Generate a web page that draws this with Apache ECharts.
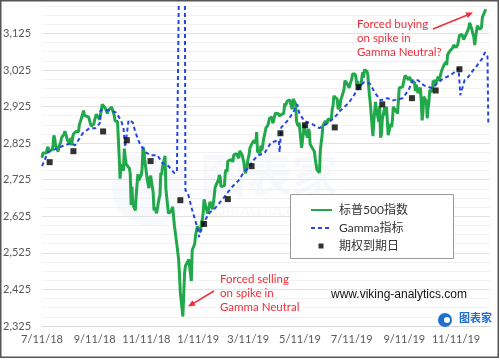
<!DOCTYPE html>
<html><head><meta charset="utf-8">
<script src="https://cdn.jsdelivr.net/npm/echarts@6/dist/echarts.min.js"></script>
<style>html,body{margin:0;padding:0;background:#fff}#c{width:500px;height:360px}</style>
</head><body><div id="c"></div>
<script>
const xStart = '2018-07-11', xEnd = '2019-12-21';
const xTickDates = ['2018-07-11','2018-09-11','2018-11-11','2019-01-11','2019-03-11','2019-05-11','2019-07-11','2019-09-11','2019-11-11'];
const xTickLabels = ['7/11/18','9/11/18','11/11/18','1/11/19','3/11/19','5/11/19','7/11/19','9/11/19','11/11/19'];
const yTickValues = [2325,2425,2525,2625,2725,2825,2925,3025,3125];
const seriesNames = ['标普500指数','Gamma指标','期权到期日'];

const spx = [
['2018-07-11',2785],['2018-07-12',2798],['2018-07-13',2801],['2018-07-16',2798],['2018-07-17',2809],['2018-07-18',2815],['2018-07-19',2804],['2018-07-20',2801],['2018-07-23',2807],['2018-07-24',2820],['2018-07-25',2846],['2018-07-26',2837],['2018-07-27',2818],['2018-07-30',2802],['2018-07-31',2816],
['2018-08-01',2813],['2018-08-02',2827],['2018-08-03',2840],['2018-08-06',2850],['2018-08-07',2858],['2018-08-08',2857],['2018-08-09',2853],['2018-08-10',2833],['2018-08-13',2821],['2018-08-14',2840],['2018-08-15',2819],['2018-08-16',2840],['2018-08-17',2850],['2018-08-20',2857],['2018-08-21',2862],['2018-08-22',2861],['2018-08-23',2856],['2018-08-24',2875],['2018-08-27',2897],['2018-08-28',2898],['2018-08-29',2914],['2018-08-30',2901],['2018-08-31',2902],
['2018-09-04',2896],['2018-09-05',2888],['2018-09-06',2878],['2018-09-07',2872],['2018-09-10',2877],['2018-09-11',2888],['2018-09-12',2888],['2018-09-13',2904],['2018-09-14',2905],['2018-09-17',2889],['2018-09-18',2904],['2018-09-19',2907],['2018-09-20',2931],['2018-09-21',2930],['2018-09-24',2919],['2018-09-25',2916],['2018-09-26',2906],['2018-09-27',2914],['2018-09-28',2914],
['2018-10-01',2924],['2018-10-02',2923],['2018-10-03',2926],['2018-10-04',2902],['2018-10-05',2886],['2018-10-08',2884],['2018-10-09',2881],['2018-10-10',2786],['2018-10-11',2728],['2018-10-12',2767],['2018-10-15',2750],['2018-10-16',2810],['2018-10-17',2809],['2018-10-18',2768],['2018-10-19',2768],['2018-10-22',2756],['2018-10-23',2741],['2018-10-24',2656],['2018-10-25',2706],['2018-10-26',2659],['2018-10-29',2641],['2018-10-30',2682],['2018-10-31',2712],
['2018-11-01',2740],['2018-11-02',2723],['2018-11-05',2738],['2018-11-06',2756],['2018-11-07',2814],['2018-11-08',2806],['2018-11-09',2781],['2018-11-12',2726],['2018-11-13',2722],['2018-11-14',2702],['2018-11-15',2730],['2018-11-16',2736],['2018-11-19',2690],['2018-11-20',2641],['2018-11-21',2649],['2018-11-23',2633],['2018-11-26',2674],['2018-11-27',2682],['2018-11-28',2744],['2018-11-29',2738],['2018-11-30',2760],
['2018-12-03',2790],['2018-12-04',2700],['2018-12-06',2696],['2018-12-07',2633],['2018-12-10',2638],['2018-12-11',2636],['2018-12-12',2651],['2018-12-13',2650],['2018-12-14',2600],['2018-12-17',2546],['2018-12-18',2546],['2018-12-19',2507],['2018-12-20',2467],['2018-12-21',2417],['2018-12-24',2351],['2018-12-26',2468],['2018-12-27',2489],['2018-12-28',2486],['2018-12-31',2507],
['2019-01-02',2510],['2019-01-03',2448],['2019-01-04',2532],['2019-01-07',2550],['2019-01-08',2574],['2019-01-09',2585],['2019-01-10',2597],['2019-01-11',2596],['2019-01-14',2583],['2019-01-15',2610],['2019-01-16',2616],['2019-01-17',2636],['2019-01-18',2671],['2019-01-22',2633],['2019-01-23',2639],['2019-01-24',2643],['2019-01-25',2665],['2019-01-28',2644],['2019-01-29',2640],['2019-01-30',2681],['2019-01-31',2704],
['2019-02-01',2707],['2019-02-04',2725],['2019-02-05',2738],['2019-02-06',2731],['2019-02-07',2706],['2019-02-08',2708],['2019-02-11',2709],['2019-02-12',2744],['2019-02-13',2753],['2019-02-14',2746],['2019-02-15',2776],['2019-02-19',2780],['2019-02-20',2784],['2019-02-21',2774],['2019-02-22',2793],['2019-02-25',2796],['2019-02-26',2793],['2019-02-27',2792],['2019-02-28',2784],
['2019-03-01',2804],['2019-03-04',2792],['2019-03-05',2789],['2019-03-06',2771],['2019-03-07',2749],['2019-03-08',2743],['2019-03-11',2784],['2019-03-12',2792],['2019-03-13',2811],['2019-03-14',2808],['2019-03-15',2822],['2019-03-18',2833],['2019-03-19',2832],['2019-03-20',2824],['2019-03-21',2855],['2019-03-22',2801],['2019-03-25',2799],['2019-03-26',2818],['2019-03-27',2805],['2019-03-28',2816],['2019-03-29',2834],
['2019-04-01',2867],['2019-04-02',2867],['2019-04-03',2873],['2019-04-04',2880],['2019-04-05',2893],['2019-04-08',2896],['2019-04-09',2879],['2019-04-10',2888],['2019-04-11',2888],['2019-04-12',2907],['2019-04-15',2906],['2019-04-16',2908],['2019-04-17',2900],['2019-04-18',2905],['2019-04-22',2907],['2019-04-23',2934],['2019-04-24',2927],['2019-04-25',2926],['2019-04-26',2940],['2019-04-29',2943],['2019-04-30',2946],
['2019-05-01',2924],['2019-05-02',2918],['2019-05-03',2946],['2019-05-06',2932],['2019-05-07',2884],['2019-05-08',2880],['2019-05-09',2871],['2019-05-10',2881],['2019-05-13',2812],['2019-05-14',2834],['2019-05-15',2851],['2019-05-16',2876],['2019-05-17',2860],['2019-05-20',2840],['2019-05-21',2864],['2019-05-22',2857],['2019-05-23',2822],['2019-05-24',2826],['2019-05-28',2802],['2019-05-29',2783],['2019-05-30',2788],['2019-05-31',2752],
['2019-06-03',2744],['2019-06-04',2804],['2019-06-05',2826],['2019-06-06',2843],['2019-06-07',2873],['2019-06-10',2886],['2019-06-11',2885],['2019-06-12',2879],['2019-06-13',2891],['2019-06-14',2887],['2019-06-17',2889],['2019-06-18',2918],['2019-06-19',2926],['2019-06-20',2954],['2019-06-21',2950],['2019-06-24',2945],['2019-06-25',2918],['2019-06-26',2914],['2019-06-27',2924],['2019-06-28',2942],
['2019-07-01',2964],['2019-07-02',2973],['2019-07-03',2996],['2019-07-05',2990],['2019-07-08',2976],['2019-07-09',2979],['2019-07-10',2993],['2019-07-11',3000],['2019-07-12',3014],['2019-07-15',3014],['2019-07-16',3004],['2019-07-17',2984],['2019-07-18',2995],['2019-07-19',2977],['2019-07-22',2986],['2019-07-23',3005],['2019-07-24',3019],['2019-07-25',3004],['2019-07-26',3026],['2019-07-29',3021],['2019-07-30',3013],['2019-07-31',2980],
['2019-08-01',2954],['2019-08-02',2932],['2019-08-05',2844],['2019-08-06',2882],['2019-08-07',2884],['2019-08-08',2938],['2019-08-09',2919],['2019-08-12',2883],['2019-08-13',2926],['2019-08-14',2840],['2019-08-15',2848],['2019-08-16',2889],['2019-08-19',2924],['2019-08-20',2901],['2019-08-21',2925],['2019-08-22',2923],['2019-08-23',2847],['2019-08-26',2878],['2019-08-27',2869],['2019-08-28',2888],['2019-08-29',2924],['2019-08-30',2926],
['2019-09-03',2906],['2019-09-04',2938],['2019-09-05',2976],['2019-09-06',2979],['2019-09-09',2979],['2019-09-10',2980],['2019-09-11',3001],['2019-09-12',3010],['2019-09-13',3007],['2019-09-16',2998],['2019-09-17',3006],['2019-09-18',3007],['2019-09-19',3006],['2019-09-20',2992],['2019-09-23',2992],['2019-09-24',2967],['2019-09-25',2985],['2019-09-26',2977],['2019-09-27',2962],['2019-09-30',2977],
['2019-10-01',2940],['2019-10-02',2887],['2019-10-03',2910],['2019-10-04',2952],['2019-10-07',2939],['2019-10-08',2893],['2019-10-09',2919],['2019-10-10',2938],['2019-10-11',2970],['2019-10-14',2966],['2019-10-15',2996],['2019-10-16',2990],['2019-10-17',2998],['2019-10-18',2986],['2019-10-21',3007],['2019-10-22',2996],['2019-10-23',3005],['2019-10-24',3010],['2019-10-25',3023],['2019-10-28',3040],['2019-10-29',3037],['2019-10-30',3047],['2019-10-31',3038],
['2019-11-01',3067],['2019-11-04',3078],['2019-11-05',3075],['2019-11-06',3077],['2019-11-07',3085],['2019-11-08',3093],['2019-11-11',3087],['2019-11-12',3092],['2019-11-13',3094],['2019-11-14',3097],['2019-11-15',3120],['2019-11-18',3122],['2019-11-19',3120],['2019-11-20',3108],['2019-11-21',3104],['2019-11-22',3110],['2019-11-25',3134],['2019-11-26',3141],['2019-11-27',3154],['2019-11-29',3141],
['2019-12-02',3114],['2019-12-03',3093],['2019-12-04',3113],['2019-12-05',3117],['2019-12-06',3146],['2019-12-09',3136],['2019-12-10',3133],['2019-12-11',3142],['2019-12-12',3169],['2019-12-13',3169],['2019-12-16',3191]
];

const gamma = [
['2018-07-11',2762],['2018-07-18',2800],['2018-08-01',2814],['2018-08-14',2825],['2018-08-19',2819],['2018-08-28',2852],['2018-09-05',2866],['2018-09-12',2866],['2018-09-17',2879],['2018-09-18',2915],['2018-09-29',2915],['2018-10-06',2909],['2018-10-12',2888],['2018-10-15',2866],['2018-10-17',2814],['2018-10-21',2888],['2018-10-26',2882],['2018-10-29',2855],['2018-11-03',2825],['2018-11-10',2800],['2018-11-16',2792],['2018-11-24',2792],['2018-11-30',2770],['2018-12-06',2765],['2018-12-14',2743],['2018-12-17',2746],['2018-12-21',3600],['2018-12-26',3600],['2018-12-27',2696],['2018-12-30',2688],
['2019-01-04',2642],['2019-01-10',2595],['2019-01-12',2568],['2019-01-14',2587],['2019-01-16',2595],['2019-01-19',2614],['2019-01-25',2636],['2019-01-31',2647],['2019-02-06',2664],['2019-02-10',2675],['2019-02-14',2688],['2019-02-20',2705],['2019-02-28',2724],['2019-03-06',2746],['2019-03-12',2759],['2019-03-17',2778],['2019-03-23',2792],['2019-03-30',2797],['2019-04-07',2827],['2019-04-16',2833],['2019-04-17',2800],['2019-04-19',2868],['2019-04-27',2888],['2019-05-03',2909],['2019-05-08',2931],['2019-05-10',2909],['2019-05-16',2885],['2019-05-24',2879],['2019-06-03',2866],['2019-06-11',2877],['2019-06-20',2893],['2019-06-28',2915],
['2019-07-07',2934],['2019-07-12',2950],['2019-07-18',2972],['2019-07-25',2991],['2019-08-01',2989],['2019-08-07',2964],['2019-08-14',2942],['2019-08-22',2948],['2019-08-29',2942],['2019-09-09',2948],['2019-09-16',2970],['2019-09-21',2997],['2019-09-27',2997],['2019-10-04',2983],['2019-10-14',2975],['2019-10-20',2989],['2019-10-27',3002],['2019-11-04',3010],['2019-11-12',3024],['2019-11-14',3030],['2019-11-16',2956],['2019-11-21',2997],['2019-11-25',3005],['2019-12-01',3024],['2019-12-06',3038],['2019-12-12',3057],['2019-12-15',3073],['2019-12-18',3065],['2019-12-19',2879]
];

const expiry = [
['2018-07-20',2773],['2018-08-17',2803],['2018-09-21',2857],['2018-10-19',2833],['2018-11-16',2776],['2018-12-21',2669],['2019-01-18',2604],['2019-02-15',2672],['2019-03-15',2762],['2019-04-18',2852],['2019-05-17',2874],['2019-06-21',2868],['2019-07-19',2978],['2019-08-16',2931],['2019-09-20',2948],['2019-10-18',2969],['2019-11-15',3027]
];

const FONT = 'Lato, "Noto Sans CJK SC", sans-serif';
const RED = '#ee2f3a';
const DAY = 86400000;
const t0 = Date.parse(xStart);
const dayOf = d => Math.round((Date.parse(d) - t0) / DAY);
const toXY = arr => arr.map(p => [dayOf(p[0]), p[1]]);
const xTickDays = xTickDates.map(dayOf);

function fmtNum(v){ return String(v).replace(/\B(?=(\d{3})+(?!\d))/g, ','); }
function arrowHead(x1, y1, x2, y2, len, half){
  const a = Math.atan2(y2 - y1, x2 - x1);
  const bx = x2 - len * Math.cos(a), by = y2 - len * Math.sin(a);
  const nx = -Math.sin(a) * half, ny = Math.cos(a) * half;
  return [[x2, y2], [bx + nx, by + ny], [bx - nx, by - ny]];
}

const chart = echarts.init(document.getElementById('c'), null, {renderer: 'canvas'});
chart.setOption({
  animation: false,
  backgroundColor: '#fff',
  grid: {left: 39, right: 10, top: 6, bottom: 34, containLabel: false},
  xAxis: {
    type: 'value',
    min: 0, max: dayOf(xEnd),
    axisLine: {show: true, onZero: false, lineStyle: {color: '#d9d9d9', width: 1}},
    axisTick: {show: false},
    splitLine: {show: false},
    axisLabel: {
      customValues: xTickDays,
      formatter: v => { const i = xTickDays.indexOf(Math.round(v)); return i >= 0 ? xTickLabels[i] : ''; },
      color: '#595959', fontFamily: FONT, fontSize: 11, margin: 8, showMinLabel: true, showMaxLabel: true
    }
  },
  yAxis: {
    type: 'value', min: 2325, max: 3200, interval: 25,
    axisLine: {show: false}, axisTick: {show: false},
    splitLine: {show: true, lineStyle: {color: ['#e2e2e2', '#f1f1f1', '#f1f1f1', '#f1f1f1'], width: 1}},
    axisLabel: {
      formatter: v => yTickValues.indexOf(Math.round(v)) >= 0 ? fmtNum(Math.round(v)) : '',
      color: '#595959', fontFamily: FONT, fontSize: 11, margin: 11
    }
  },
  legend: {
    orient: 'vertical', left: 305, top: 198, z: 8,
    itemWidth: 21, itemHeight: 6, itemGap: 4,
    data: [
      {name: seriesNames[0], itemStyle: {opacity: 0}},
      {name: seriesNames[1], itemStyle: {opacity: 0}},
      {name: seriesNames[2], icon: 'path://M0,0L0.01,0M21,6L21.01,6M7.5,0.5h5v5h-5z'}
    ],
    textStyle: {fontFamily: FONT, fontSize: 12, color: '#333', lineHeight: 14, padding: [0, 0, 0, 2]},
    selectedMode: false
  },
  series: [
    {name: seriesNames[0], type: 'line', data: toXY(spx), symbol: 'none', showSymbol: false,
     lineStyle: {color: '#21a84b', width: 3}, itemStyle: {color: '#21a84b'}, z: 2},
    {name: seriesNames[1], type: 'line', data: toXY(gamma), symbol: 'none', showSymbol: false,
     lineStyle: {color: '#2746e0', width: 2, type: [4, 3]}, itemStyle: {color: '#2746e0'}, z: 3},
    {name: seriesNames[2], type: 'scatter', data: toXY(expiry), symbol: 'rect', symbolSize: 6,
     itemStyle: {color: '#000'}, z: 4}
  ],
  graphic: [
    {type: 'group', silent: true, z: 0, children: [
      {type: 'circle', shape: {cx: 150, cy: 188, r: 38}, style: {fill: 'rgba(205,218,234,0.16)'}},
      {type: 'text', style: {text: '图表家', x: 200, y: 152, font: 'bold 46px "Noto Sans CJK SC"', fill: 'rgba(205,218,234,0.18)'}},
      {type: 'text', style: {text: 'TUBIAOJIA.COM', x: 205, y: 205, font: 'bold 15px Lato', fill: 'rgba(205,218,234,0.16)'}}
    ]},
    {type: 'rect', z: 5, shape: {x: 290.5, y: 194.5, width: 163, height: 64}, style: {fill: '#fff', stroke: '#9a9a9a', lineWidth: 1}},
    {type: 'text', z: 10, style: {text: 'Forced buying\non spike in\nGamma Neutral?', x: 357, y: 17, font: '11.5px Lato', lineHeight: 14, fill: RED}},
    {type: 'line', z: 10, shape: {x1: 433, y1: 29, x2: 468, y2: 14.7}, style: {stroke: RED, lineWidth: 1.5}},
    {type: 'polygon', z: 10, shape: {points: arrowHead(433, 29, 473, 12.6, 7, 3)}, style: {fill: RED}},
    {type: 'text', z: 10, style: {text: 'Forced selling\non spike in\nGamma Neutral', x: 220, y: 272, font: '11.5px Lato', lineHeight: 14, fill: RED}},
    {type: 'line', z: 10, shape: {x1: 214, y1: 291, x2: 193, y2: 303.6}, style: {stroke: RED, lineWidth: 1.5}},
    {type: 'polygon', z: 10, shape: {points: arrowHead(214, 291, 188, 306.5, 7, 3)}, style: {fill: RED}},
    {type: 'text', z: 10, style: {text: 'www.viking-analytics.com', x: 331, y: 289, font: '12px "Liberation Sans"', fill: '#111'}},
    {type: 'circle', z: 10, shape: {cx: 445, cy: 320, r: 7}, style: {fill: '#1f6fd1'}},
    {type: 'circle', z: 10, shape: {cx: 447, cy: 320, r: 3}, style: {fill: '#fff'}},
    {type: 'text', z: 10, style: {text: '图表家', x: 459, y: 312, font: 'bold 11px "Noto Sans CJK SC"', fill: '#1f6fd1'}},
    {type: 'rect', z: 20, silent: true, shape: {x: 0.75, y: 0.75, width: 497.5, height: 356.5}, style: {fill: 'none', stroke: '#555', lineWidth: 1.5}}
  ]
});
</script></body></html>
